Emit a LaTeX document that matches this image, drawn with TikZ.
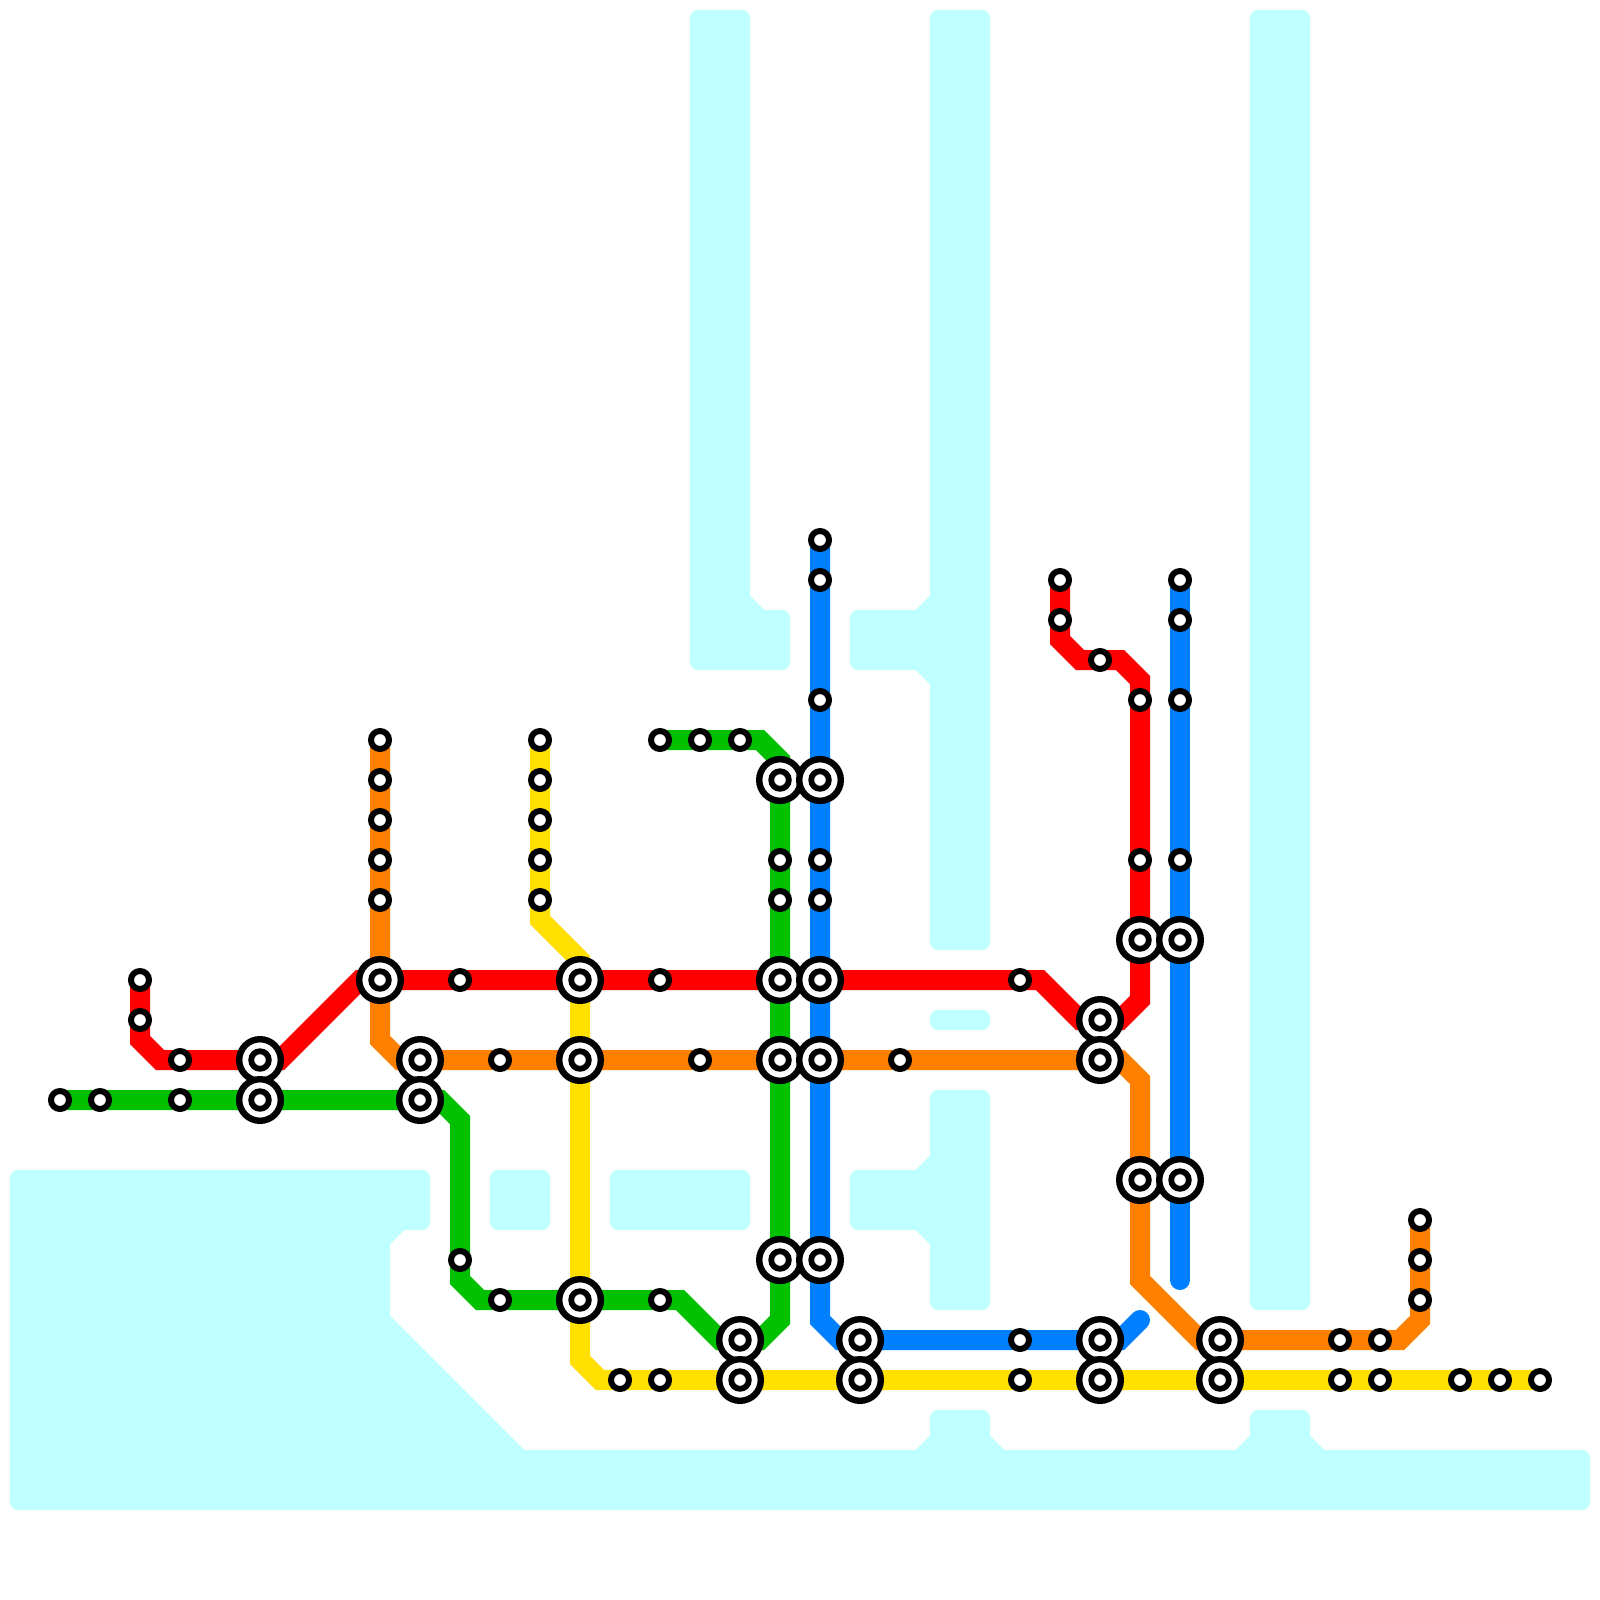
\documentclass[tikz,border=0pt]{standalone}
\pgfdeclarelayer{back}
\pgfsetlayers{back,main}
\definecolor{waterc}{HTML}{C0FFFF}
\definecolor{redl}{HTML}{FF0000}
\definecolor{orangel}{HTML}{FF8000}
\definecolor{yellowl}{HTML}{FFE000}
\definecolor{greenl}{HTML}{00C000}
\definecolor{bluel}{HTML}{0080FF}
\tikzset{
  x=0.5pt,y=-0.5pt,
  water/.style={fill=waterc,draw=waterc,line width=8pt,line join=round},
  metro/.style={draw=#1,line width=10pt,line join=miter,line cap=round},
  smallst/.style={circle,draw=black,fill=white,line width=3pt,minimum size=9pt,inner sep=0pt,outer sep=0pt},
  bigst/.style={circle,draw=black,fill=white,line width=3.2pt,minimum size=20.8pt,inner sep=0pt,outer sep=0pt,
    path picture={\draw[black,line width=2.9pt] (path picture bounding box.center) circle (4.4pt);}},
}
\begin{document}
\begin{tikzpicture}
\useasboundingbox (0,0) rectangle (1600,1600);
% small stations
\foreach \x/\y in {140/980,140/1020,180/1060,180/1100,60/1100,100/1100,
  380/740,380/780,380/820,380/860,380/900,460/980,500/1060,460/1260,500/1300,
  540/740,540/780,540/820,540/860,540/900,620/1380,660/980,660/1300,660/1380,
  660/740,700/740,740/740,700/1060,780/860,780/900,
  820/540,820/580,820/700,820/860,820/900,900/1060,1020/980,1020/1340,1020/1380,
  1060/580,1060/620,1100/660,1140/700,1140/860,
  1180/580,1180/620,1180/700,1180/860,
  1340/1340,1340/1380,1380/1340,1380/1380,1420/1220,1420/1260,1420/1300,
  1460/1380,1500/1380,1540/1380}
  \node[smallst] (s\x-\y) at (\x,\y) {};
% interchange stations
\foreach \x/\y in {780/780,820/780,1140/940,1180/940,380/980,580/980,780/980,820/980,
  1100/1020,260/1060,420/1060,580/1060,780/1060,820/1060,1100/1060,
  260/1100,420/1100,1140/1180,1180/1180,780/1260,820/1260,580/1300,
  740/1340,860/1340,1100/1340,1220/1340,740/1380,860/1380,1100/1380,1220/1380}
  \node[bigst] (s\x-\y) at (\x,\y) {};
% bends
\foreach \x/\y in {140/1040,160/1060,280/1060,360/980,1040/980,1080/1020,1120/1020,1140/1000,
  1140/680,1120/660,1080/660,1060/640,
  380/1040,400/1060,1120/1060,1140/1080,1140/1280,1200/1340,1400/1340,1420/1320,
  440/1100,460/1120,460/1280,480/1300,680/1300,720/1340,760/1340,780/1320,780/760,760/740,
  820/1320,840/1340,1120/1340,1140/1320,1180/1280,
  540/920,580/960,580/1360,600/1380}
  \coordinate (b\x-\y) at (\x,\y);
\begin{pgfonlayer}{back}
\fill[white] (0,0) rectangle (1600,1600);
\path[water] (18,1178) -- (422,1178) -- (422,1222) -- (400.83,1222) -- (382,1240.83) -- (382,1319.17) -- (520.83,1458) -- (919.17,1458) -- (938,1439.17) -- (938,1418) -- (982,1418) -- (982,1439.17) -- (1000.83,1458) -- (1239.17,1458) -- (1258,1439.17) -- (1258,1418) -- (1302,1418) -- (1302,1439.17) -- (1320.83,1458) -- (1582,1458) -- (1582,1502) -- (18,1502) -- cycle;
\path[water] (498,1178) rectangle (542,1222);
\path[water] (618,1178) rectangle (742,1222);
\path[water] (698,18) -- (742,18) -- (742,599.17) -- (760.83,618) -- (782,618) -- (782,662) -- (698,662) -- cycle;
\path[water] (938,18) -- (982,18) -- (982,942) -- (938,942) -- (938,680.83) -- (919.17,662) -- (858,662) -- (858,618) -- (919.17,618) -- (938,599.17) -- cycle;
\path[water] (938,1018) rectangle (982,1022);
\path[water] (938,1098) -- (982,1098) -- (982,1302) -- (938,1302) -- (938,1240.83) -- (919.17,1222) -- (858,1222) -- (858,1178) -- (919.17,1178) -- (938,1159.17) -- cycle;
\path[water] (1258,18) rectangle (1302,1302);
% lines
\draw[metro=greenl] (s60-1100.center) -- (s420-1100.center) -- (b440-1100) -- (b460-1120) -- (b460-1280) -- (b480-1300) -- (b680-1300) -- (b720-1340) -- (b760-1340) -- (b780-1320) -- (b780-760) -- (b760-740) -- (s660-740.center);
\draw[metro=bluel] (s820-540.center) -- (b820-1320) -- (b840-1340) -- (b1120-1340) -- (b1140-1320);
\draw[metro=bluel] (s1180-580.center) -- (b1180-1280);
\draw[metro=yellowl] (s540-740.center) -- (b540-920) -- (b580-960) -- (b580-1360) -- (b600-1380) -- (s1540-1380.center);
\draw[metro=orangel] (s380-740.center) -- (b380-1040) -- (b400-1060) -- (b1120-1060) -- (b1140-1080) -- (b1140-1280) -- (b1200-1340) -- (b1400-1340) -- (b1420-1320) -- (s1420-1220.center);
\draw[metro=redl] (s140-980.center) -- (b140-1040) -- (b160-1060) -- (b280-1060) -- (b360-980) -- (b1040-980) -- (b1080-1020) -- (b1120-1020) -- (b1140-1000) -- (b1140-680) -- (b1120-660) -- (b1080-660) -- (b1060-640) -- (s1060-580.center);
\end{pgfonlayer}
\end{tikzpicture}
\end{document}
